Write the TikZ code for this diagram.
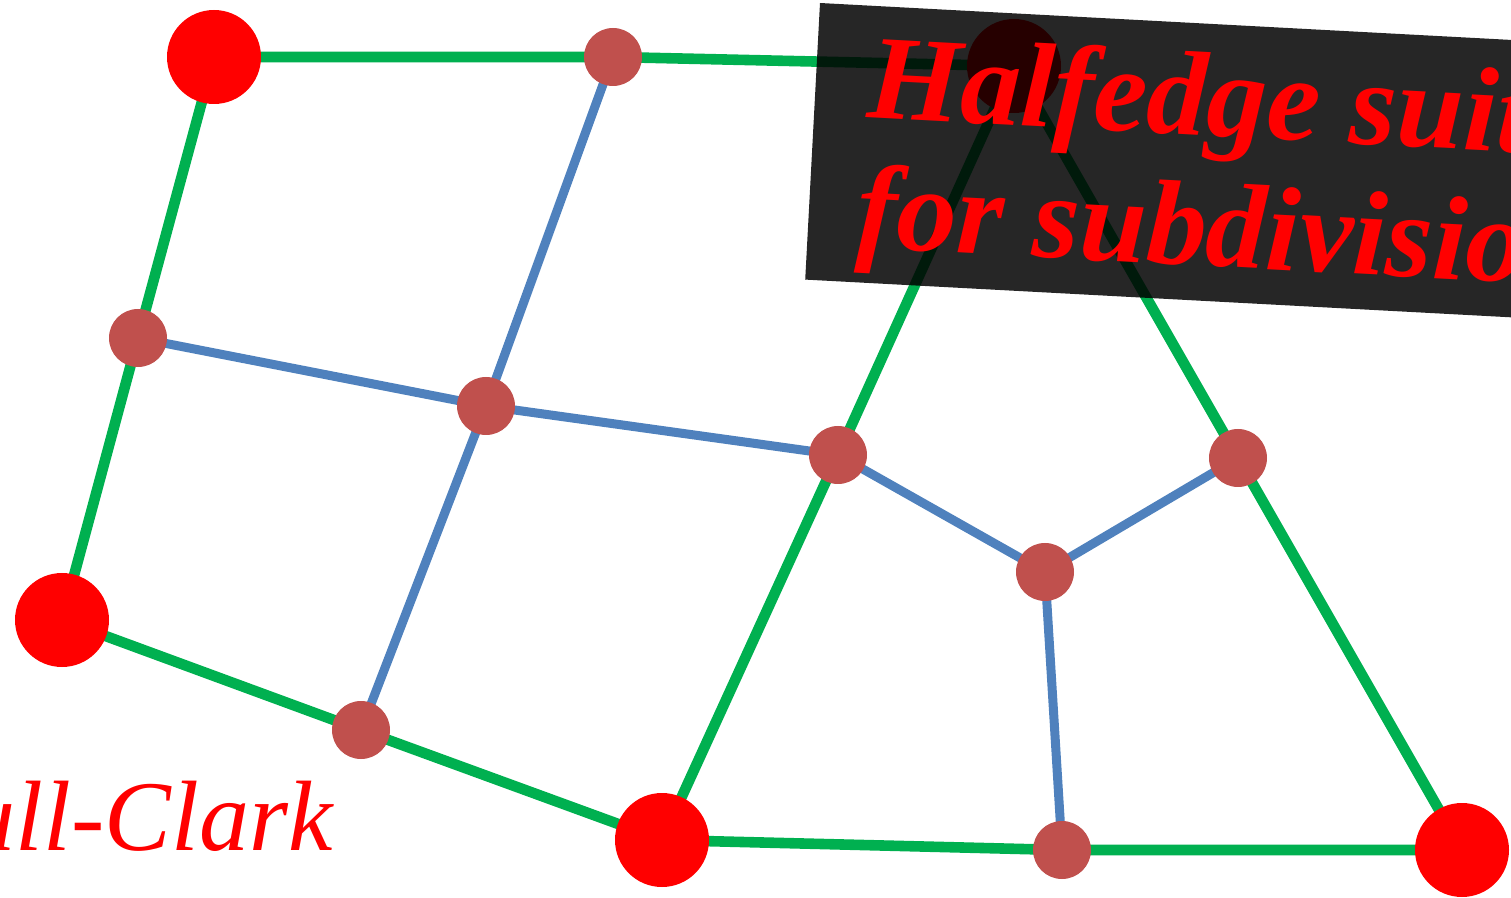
\documentclass[tikz,border=0pt]{standalone}
\usepackage{fontspec}
\setmainfont{Liberation Serif}
\pgfdeclarelayer{background}
\pgfsetlayers{background,main}
\begin{document}
\begin{tikzpicture}[x=0.5pt,y=-0.5pt,
  bignode/.style={circle,fill={rgb,255:red,255;green,0;blue,0},minimum size=47pt,inner sep=0pt},
  smallnode/.style={circle,fill=nodebrown,minimum size=29pt,inner sep=0pt},
  greenedge/.style={draw=edgegreen,line width=5.3pt},
  blueedge/.style={draw=edgeblue,line width=4.5pt},
  titletext/.style={text={rgb,255:red,255;green,0;blue,0},font=\fontsize{60pt}{64pt}\selectfont\bfseries\itshape,inner sep=0pt,anchor=base west,transform shape}
]
\definecolor{nodebrown}{HTML}{C0504D}
\definecolor{edgegreen}{HTML}{00B050}
\definecolor{edgeblue}{HTML}{4F81BD}
\useasboundingbox (0,0) rectangle (1511,898);
\clip (0,0) rectangle (1511,898);
% nodes
\node[bignode] (A) at (214,57) {};
\node[bignode] (B) at (62,620) {};
\node[bignode] (C) at (662,840) {};
\node[bignode] (D) at (1462,850) {};
\node[bignode] (T) at (1014,66) {};
\node[smallnode] (e1) at (613,57) {};
\node[smallnode] (e2) at (138,338) {};
\node[smallnode] (f1) at (486,406) {};
\node[smallnode] (e3) at (838,455) {};
\node[smallnode] (e4) at (1238,458) {};
\node[smallnode] (f2) at (1045,572) {};
\node[smallnode] (e5) at (361,730) {};
\node[smallnode] (e6) at (1062,850) {};
% edges behind nodes
\begin{pgfonlayer}{background}
\path[greenedge] (A.center) -- (e1.center) -- (T.center);
\path[greenedge] (A.center) -- (e2.center) -- (B.center);
\path[greenedge] (B.center) -- (e5.center) -- (C.center);
\path[greenedge] (C.center) -- (e6.center) -- (D.center);
\path[greenedge] (C.center) -- (e3.center) -- (T.center);
\path[greenedge] (T.center) -- (e4.center) -- (D.center);
\path[blueedge] (e1.center) -- (f1.center) -- (e5.center);
\path[blueedge] (e2.center) -- (f1.center) -- (e3.center);
\path[blueedge] (e3.center) -- (f2.center) -- (e4.center);
\path[blueedge] (f2.center) -- (e6.center);
\end{pgfonlayer}
% title box
\begin{scope}[shift={(820,3)},rotate=-3.06]
  \fill[black,fill opacity=0.85] (0,0) rectangle (800,277);
  \node[titletext] (t1) at (52,112) {Halfedge suitable};
  \node[titletext] (t2) at (48,242) {for subdivision};
\end{scope}
% bottom-left label
\node[anchor=base east,inner sep=0pt,text={rgb,255:red,255;green,0;blue,0},font=\fontsize{50pt}{56pt}\selectfont\itshape] (cc) at (333,850) {Catmull-Clark};
\end{tikzpicture}
\end{document}
